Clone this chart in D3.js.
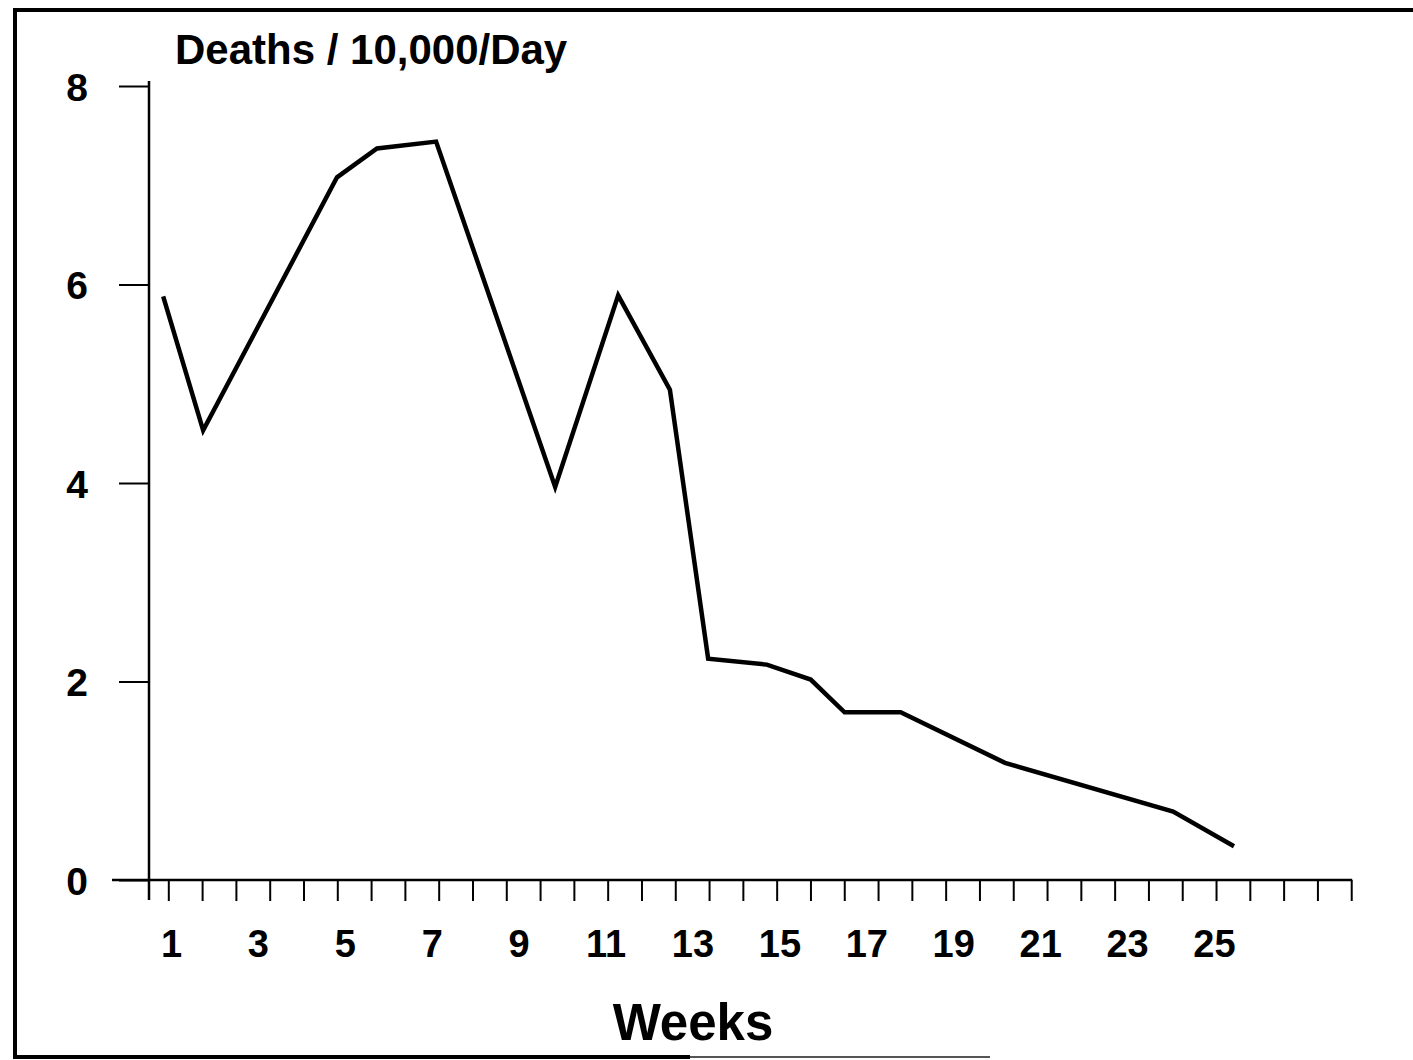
<!DOCTYPE html>
<html>
<head>
<meta charset="utf-8">
<script src="https://cdn.jsdelivr.net/npm/d3@7/dist/d3.min.js"></script>
<style>
  html, body { margin: 0; padding: 0; background: #fff; }
  svg { display: block; }
  text { font-family: "Liberation Sans", Arial, Helvetica, sans-serif; font-weight: bold; fill: #000; }
</style>
</head>
<body>
<svg id="chart" width="1413" height="1060"></svg>
<script>
// Weekly death rate (deaths per 10,000 per day)
const weeks  = [0.82, 1.74, 4.82, 5.74, 7.10, 9.84, 11.29, 12.48, 13.36, 14.71, 15.72, 16.50, 17.79, 20.19, 24.06, 25.46];
const deaths = [5.88, 4.53, 7.08, 7.37, 7.44, 3.96, 5.89, 4.94, 2.23, 2.17, 2.02, 1.69, 1.69, 1.18, 0.69, 0.34];

const xLabelWeeks = [1, 3, 5, 7, 9, 11, 13, 15, 17, 19, 21, 23, 25];
const yTickValues = [0, 2, 4, 6, 8];

const titleText = "Deaths / 10,000/Day";
const xTitleText = "Weeks";

const W = 1413, H = 1060;
const svg = d3.select("#chart");

const x = d3.scaleLinear().domain([1, 25]).range([171, 1214]);
const y = d3.scaleLinear().domain([0, 8]).range([880, 86]);

// evenly spaced tick marks along the week axis
const minorStart = 0.938, minorStep = 0.7777, minorCount = 36;
const minorTicks = d3.range(minorCount).map(i => minorStart + i * minorStep);
const yAxisX = 149;

// outer frame
const frame = svg.append("g").attr("stroke", "#000").attr("fill", "none");
frame.append("line").attr("x1", 13).attr("x2", W).attr("y1", 10).attr("y2", 10).attr("stroke-width", 4);
frame.append("line").attr("x1", 15).attr("x2", 15).attr("y1", 8).attr("y2", 1059).attr("stroke-width", 4);
frame.append("line").attr("x1", 13).attr("x2", 690).attr("y1", 1057).attr("y2", 1057).attr("stroke-width", 4);
frame.append("line").attr("x1", 690).attr("x2", 990).attr("y1", 1057).attr("y2", 1057).attr("stroke-width", 2).attr("stroke", "#555");

// y axis
const yAxis = d3.axisLeft(y).tickValues(yTickValues).tickSize(30).tickPadding(31).tickFormat(d3.format("d"));
const gy = svg.append("g").attr("transform", `translate(${yAxisX},0)`).call(yAxis);
gy.select(".domain").remove();
gy.selectAll(".tick line").attr("stroke", "#000").attr("stroke-width", 2);
gy.selectAll(".tick text").attr("font-size", 39).attr("dy", "0.36em");
svg.append("line")
  .attr("x1", yAxisX).attr("x2", yAxisX)
  .attr("y1", y(8) - 5).attr("y2", y(0) + 20)
  .attr("stroke", "#000").attr("stroke-width", 2.5);

// x axis: baseline, tick marks and labels
svg.append("line")
  .attr("x1", yAxisX - 37).attr("x2", x(minorTicks[minorTicks.length - 1]) + 1)
  .attr("y1", y(0)).attr("y2", y(0))
  .attr("stroke", "#000").attr("stroke-width", 2.5);

const gxTicks = svg.append("g").attr("transform", `translate(0,${y(0)})`)
  .call(d3.axisBottom(x).tickValues(minorTicks).tickSize(21).tickFormat(""));
gxTicks.select(".domain").remove();
gxTicks.selectAll(".tick line").attr("stroke", "#000").attr("stroke-width", 2);

const gxLabels = svg.append("g").attr("transform", `translate(0,${y(0)})`)
  .call(d3.axisBottom(x).tickValues(xLabelWeeks).tickSize(0).tickPadding(50).tickFormat(d3.format("d")));
gxLabels.select(".domain").remove();
gxLabels.selectAll(".tick text").attr("font-size", 38);

// titles
svg.append("text").attr("x", 175).attr("y", 64).attr("font-size", 42).text(titleText);
svg.append("text").attr("x", 693).attr("y", 1040).attr("text-anchor", "middle").attr("font-size", 51).text(xTitleText);

// data line
const line = d3.line().x((d, i) => x(weeks[i])).y(d => y(d));
svg.append("path")
  .datum(deaths)
  .attr("d", line)
  .attr("fill", "none")
  .attr("stroke", "#000")
  .attr("stroke-width", 4.5)
  .attr("stroke-linejoin", "miter");
</script>
</body>
</html>
